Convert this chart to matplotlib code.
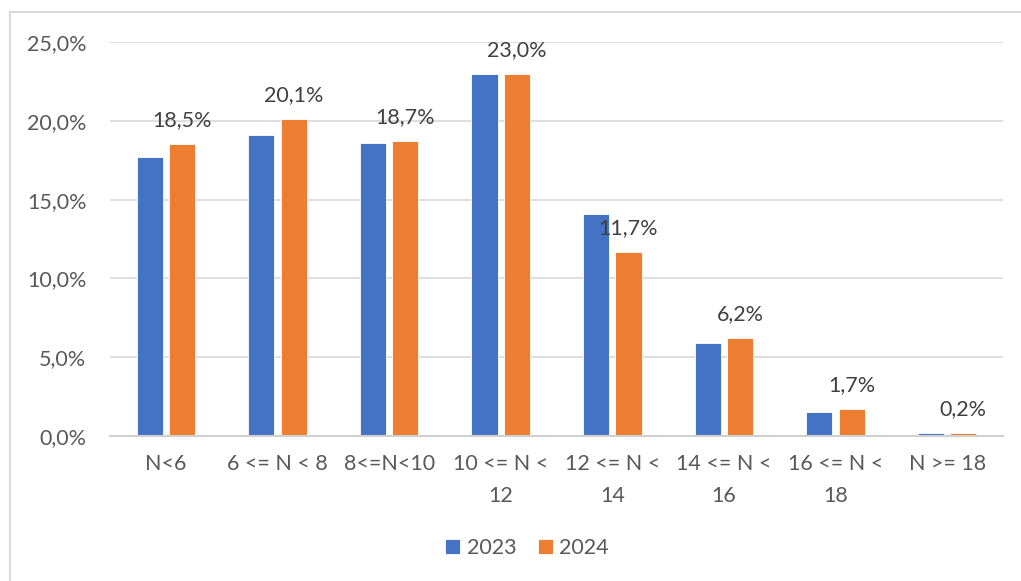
import numpy as np
import matplotlib.pyplot as plt
from matplotlib.patches import Rectangle

plt.rcParams['font.family'] = ['Lato', 'DejaVu Sans']

categories = ["N<6", "6 <= N < 8", "8<=N<10", "10 <= N <\n12", "12 <= N <\n14",
              "14 <= N <\n16", "16 <= N <\n18", "N >= 18"]
vals_2023 = [17.7, 19.1, 18.6, 23.0, 14.1, 5.9, 1.5, 0.2]
vals_2024 = [18.5, 20.1, 18.7, 23.0, 11.7, 6.2, 1.7, 0.2]
yticks = [0, 5, 10, 15, 20, 25]

blue = "#4472C4"
orange = "#ED7D31"
grey_txt = "#595959"
fs = 15.5

fig = plt.figure(figsize=(10.21, 5.81), dpi=100)
# cadre du graphique
fig.patches.append(Rectangle((10 / 1021, -0.1), 1.2, 1 - 12 / 581 + 0.1,
                             transform=fig.transFigure, fill=False,
                             edgecolor="#d9d9d9", linewidth=1.5))

ax = fig.add_axes([110 / 1021, 1 - 436 / 581, 893 / 1021, 394 / 581])
x = np.arange(len(categories))
w = 0.235
off = 0.145
b1 = ax.bar(x - off, vals_2023, w, color=blue, edgecolor="white", linewidth=0.6, label="2023", zorder=3)
b2 = ax.bar(x + off, vals_2024, w, color=orange, edgecolor="white", linewidth=0.6, label="2024", zorder=3)

for xi, v in zip(x, vals_2024):
    ax.annotate(f"{v:.1f}%".replace(".", ","), (xi + off, v), xytext=(0, 10),
                textcoords="offset points", ha="center", va="bottom",
                fontsize=fs, color="#404040")

ax.set_xlim(-0.5, len(categories) - 0.5)
ax.set_ylim(0, 25)
ax.set_yticks(yticks)
ax.set_yticklabels([f"{t:.1f}%".replace(".", ",") for t in yticks], fontsize=fs, color=grey_txt)
ax.set_xticks(x)
ax.set_xticklabels(categories, fontsize=fs, color=grey_txt, linespacing=1.75)
ax.tick_params(axis="both", length=0)
ax.tick_params(axis="x", pad=13)
ax.tick_params(axis="y", pad=17)
ax.grid(axis="y", color="#d9d9d9", linewidth=1.2, zorder=0)
for s in ["top", "right", "left"]:
    ax.spines[s].set_visible(False)
ax.spines["bottom"].set_color("#d0d0d0")
ax.spines["bottom"].set_linewidth(1.5)
ax.spines["bottom"].set_zorder(4)

fig.legend(handles=[b1, b2], loc="center", bbox_to_anchor=(527 / 1021, 1 - 548 / 581),
           ncol=2, frameon=False, fontsize=fs, handlelength=0.7, handleheight=0.7,
           handletextpad=0.3, columnspacing=1.0, labelcolor=grey_txt)

fig.savefig("out.png", dpi=100)
